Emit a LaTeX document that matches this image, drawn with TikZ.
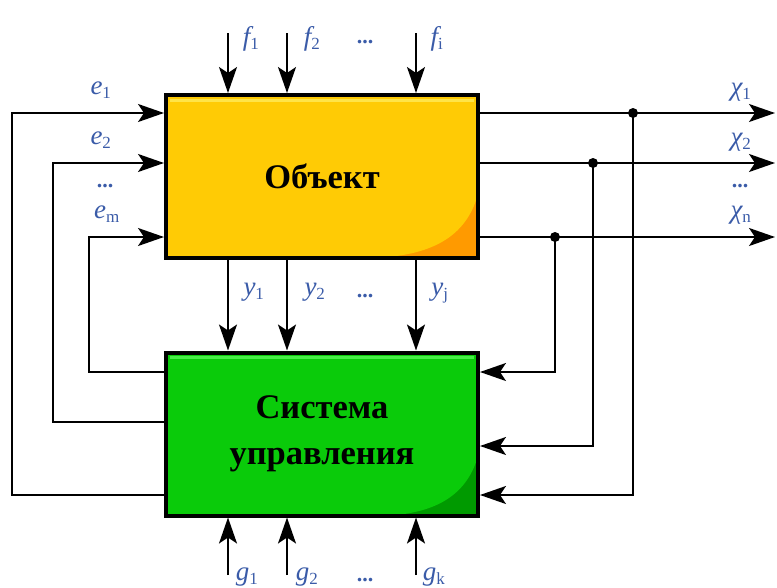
\documentclass[tikz,border=0pt]{standalone}
\usepackage{fontspec}
\setmainfont{Liberation Serif}
\usetikzlibrary{arrows.meta}
\definecolor{yel}{HTML}{FFCB05}
\definecolor{yelhi}{HTML}{FFE448}
\definecolor{org}{HTML}{FF9A00}
\definecolor{grn}{HTML}{0ACB0A}
\definecolor{grnhi}{HTML}{48EE48}
\definecolor{grndk}{HTML}{009A00}
\definecolor{lbl}{HTML}{3A5BA8}
\tikzset{
  blk/.style={draw=black, line width=4pt, minimum width=312pt, minimum height=163pt, inner sep=0pt, align=center, font=\fontsize{34.5}{46}\selectfont\bfseries},
  arr/.style={line width=2pt, -{Stealth[length=26pt,width=18pt,inset=6pt]}},
  lab/.style={text=lbl, font=\fontsize{27}{27}\selectfont\itshape, inner sep=0pt, anchor=center},
  dots/.style={text=lbl, font=\fontsize{22}{22}\selectfont\bfseries, inner sep=0pt, anchor=center},
  jn/.style={circle, fill=black, inner sep=0pt, minimum size=10pt}
}
\newcommand{\sbs}[1]{\textsubscript{\fontsize{17}{17}\selectfont\upshape #1}}
\begin{document}
\begin{tikzpicture}[x=1pt,y=-1pt]
\useasboundingbox (0,0) rectangle (777,587);
% fills
\fill[org] (166,95) rectangle (478,258);
\fill[yel] (166,95) -- (478,95) -- (478,194) .. controls (466,238) and (430,256) .. (372,258) -- (166,258) -- cycle;
\draw[yelhi, line width=3pt] (170,100) -- (474,100);
\fill[grndk] (166,352) rectangle (478,516);
\fill[grn] (166,352) -- (478,352) -- (478,456) .. controls (466,498) and (432,514) .. (382,516) -- (166,516) -- cycle;
\draw[grnhi, line width=3pt] (170,357) -- (474,357);
% boxes
\node[blk] (obj) at (322,176.5) {Объект};
\node[blk] (ctl) at (322,434) {Система\\управления};
% rows and columns
\coordinate (r1) at (0,113); \coordinate (r2) at (0,163); \coordinate (r3) at (0,237);
\coordinate (L1) at (12,495); \coordinate (L2) at (53,422); \coordinate (L3) at (89,372);
\coordinate (R1) at (0,495); \coordinate (R2) at (0,446); \coordinate (R3) at (0,372);
\coordinate (X1) at (775,113); \coordinate (X2) at (775,163); \coordinate (X3) at (775,237);
\coordinate (c1) at (228,0); \coordinate (c2) at (287,0); \coordinate (c3) at (416,0);
\coordinate (ft) at (0,33); \coordinate (gb) at (0,575);
% f inputs
\draw[arr] (c1 |- ft) -- (c1 |- obj.north);
\draw[arr] (c2 |- ft) -- (c2 |- obj.north);
\draw[arr] (c3 |- ft) -- (c3 |- obj.north);
% y links
\draw[arr] (c1 |- obj.south) -- (c1 |- ctl.north);
\draw[arr] (c2 |- obj.south) -- (c2 |- ctl.north);
\draw[arr] (c3 |- obj.south) -- (c3 |- ctl.north);
% g inputs
\draw[arr] (c1 |- gb) -- (c1 |- ctl.south);
\draw[arr] (c2 |- gb) -- (c2 |- ctl.south);
\draw[arr] (c3 |- gb) -- (c3 |- ctl.south);
% e feedback
\draw[arr] (ctl.west |- L1) -- (L1) |- (obj.west |- r1);
\draw[arr] (ctl.west |- L2) -- (L2) |- (obj.west |- r2);
\draw[arr] (ctl.west |- L3) -- (L3) |- (obj.west |- r3);
% outputs
\draw[arr] (obj.east |- r1) -- (X1);
\draw[arr] (obj.east |- r2) -- (X2);
\draw[arr] (obj.east |- r3) -- (X3);
\node[jn] (d1) at (633,113) {};
\node[jn] (d2) at (593,163) {};
\node[jn] (d3) at (555,237) {};
\draw[arr] (d1.center) |- (ctl.east |- R1);
\draw[arr] (d2.center) |- (ctl.east |- R2);
\draw[arr] (d3.center) |- (ctl.east |- R3);
% labels
\node[lab] (lf1) at (251,39) {f\sbs{1}};
\node[lab] (lf2) at (312,39) {f\sbs{2}};
\node[dots] (lfd) at (365,42) {...};
\node[lab] (lfi) at (437,39) {f\sbs{i}};
\node[lab] (le1) at (101,90) {e\sbs{1}};
\node[lab] (le2) at (101,140) {e\sbs{2}};
\node[dots] (led) at (105,186) {...};
\node[lab] (lem) at (107,214) {e\sbs{m}};
\node[lab] (lx1) at (741,92) {χ\sbs{1}};
\node[lab] (lx2) at (741,142) {χ\sbs{2}};
\node[dots] (lxd) at (740,186) {...};
\node[lab] (lxn) at (741,215) {χ\sbs{n}};
\node[lab] (ly1) at (254,292) {y\sbs{1}};
\node[lab] (ly2) at (315,292) {y\sbs{2}};
\node[dots] (lyd) at (365,296) {...};
\node[lab] (lyj) at (440,293) {y\sbs{j}};
\node[lab] (lg1) at (247,577) {g\sbs{1}};
\node[lab] (lg2) at (307,577) {g\sbs{2}};
\node[dots] (lgd) at (365,580) {...};
\node[lab] (lgk) at (434,577) {g\sbs{k}};
\end{tikzpicture}
\end{document}
